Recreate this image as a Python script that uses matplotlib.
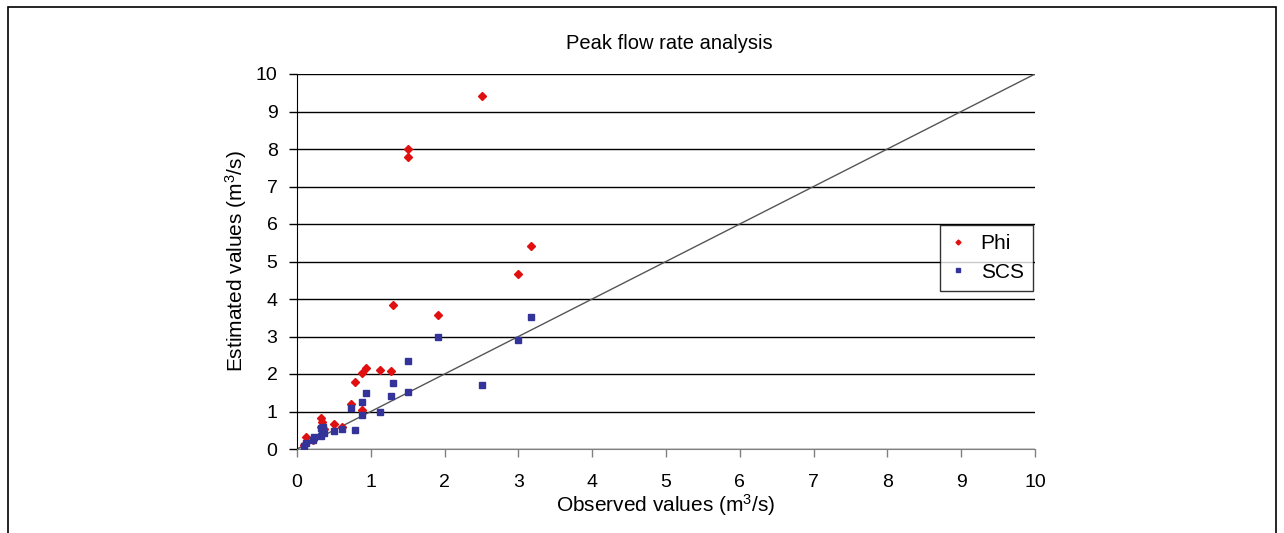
import matplotlib
matplotlib.use("Agg")
import matplotlib.pyplot as plt
from matplotlib.patches import Rectangle

plt.rcParams['font.family'] = ['Liberation Sans', 'DejaVu Sans']
plt.rcParams['mathtext.fontset'] = 'custom'
plt.rcParams['mathtext.rm'] = 'Liberation Sans'
plt.rcParams['mathtext.it'] = 'Liberation Sans'

# Data (observed, Phi estimate, SCS estimate)
observed = [2.50, 1.50, 1.51, 3.17, 3.00, 1.30, 1.91, 0.94, 0.88, 1.13, 1.28, 0.78, 0.73,
            0.88, 0.33, 0.34, 0.50, 0.61, 0.36, 0.12, 0.32, 0.23, 0.22, 0.09, 0.35]
phi = [9.42, 8.00, 7.80, 5.42, 4.67, 3.83, 3.57, 2.16, 2.04, 2.10, 2.07, 1.80, 1.19,
       1.04, 0.82, 0.73, 0.68, 0.58, 0.53, 0.33, 0.60, 0.30, 0.25, 0.10, 0.45]
scs = [1.71, 2.34, 1.51, 3.51, 2.92, 1.75, 3.00, 1.50, 1.25, 0.99, 1.42, 0.52, 1.09,
       0.91, 0.55, 0.47, 0.49, 0.54, 0.42, 0.15, 0.35, 0.31, 0.24, 0.08, 0.60]
ref_line = [0, 10]
ticks = list(range(0, 11))

W, H = 1284, 533
fig = plt.figure(figsize=(W / 100, H / 100), dpi=100)
fig.patches.append(Rectangle((8 / W, -0.05), (1276 - 8) / W, 1 - 7 / H + 0.05,
                             transform=fig.transFigure, fill=False,
                             edgecolor='black', linewidth=1.2))

ax = fig.add_axes([297 / W, 1 - 449 / H, (1035 - 297) / W, (449 - 74) / H])
ax.set_xlim(0, 10)
ax.set_ylim(0, 10)
ax.set_xticks(ticks)
ax.set_yticks(ticks)
ax.yaxis.grid(True, color='black', linewidth=1.0)
ax.set_axisbelow(True)
for s in ['top', 'right']:
    ax.spines[s].set_visible(False)
ax.spines['left'].set_color('black')
ax.spines['bottom'].set_color('#808080')
ax.tick_params(axis='both', direction='out', length=6, labelsize=14, width=1)
ax.tick_params(axis='x', colors='#808080', labelcolor='black', pad=12)
ax.tick_params(axis='y', pad=8)

ax.plot(ref_line, ref_line, color='#555555', linewidth=1.0, zorder=2)
ax.plot(observed, phi, linestyle='none', marker='D', markersize=4.2,
        color='#E01010', label='Phi', zorder=3)
ax.plot(observed, scs, linestyle='none', marker='s', markersize=4.2,
        color='#333399', label='SCS', zorder=4)

ax.set_xlabel(r'Observed values (m$^3$/s)', fontsize=15, labelpad=1)
ax.set_ylabel(r'Estimated values (m$^3$/s)', fontsize=15, labelpad=5)
fig.text(669 / W, 1 - 43 / H, 'Peak flow rate analysis', fontsize=14.5,
         ha='center', va='center')

leg = ax.legend(loc='upper right', bbox_to_anchor=(1033 / W, 1 - 225 / H),
                bbox_transform=fig.transFigure, fontsize=15, frameon=True,
                fancybox=False, edgecolor='black', markerscale=0.6,
                handlelength=0.8, handletextpad=0.7, borderpad=0.45,
                labelspacing=0.45, borderaxespad=0)
leg.get_frame().set_linewidth(1.0)

fig.savefig('out.png', dpi=100)
